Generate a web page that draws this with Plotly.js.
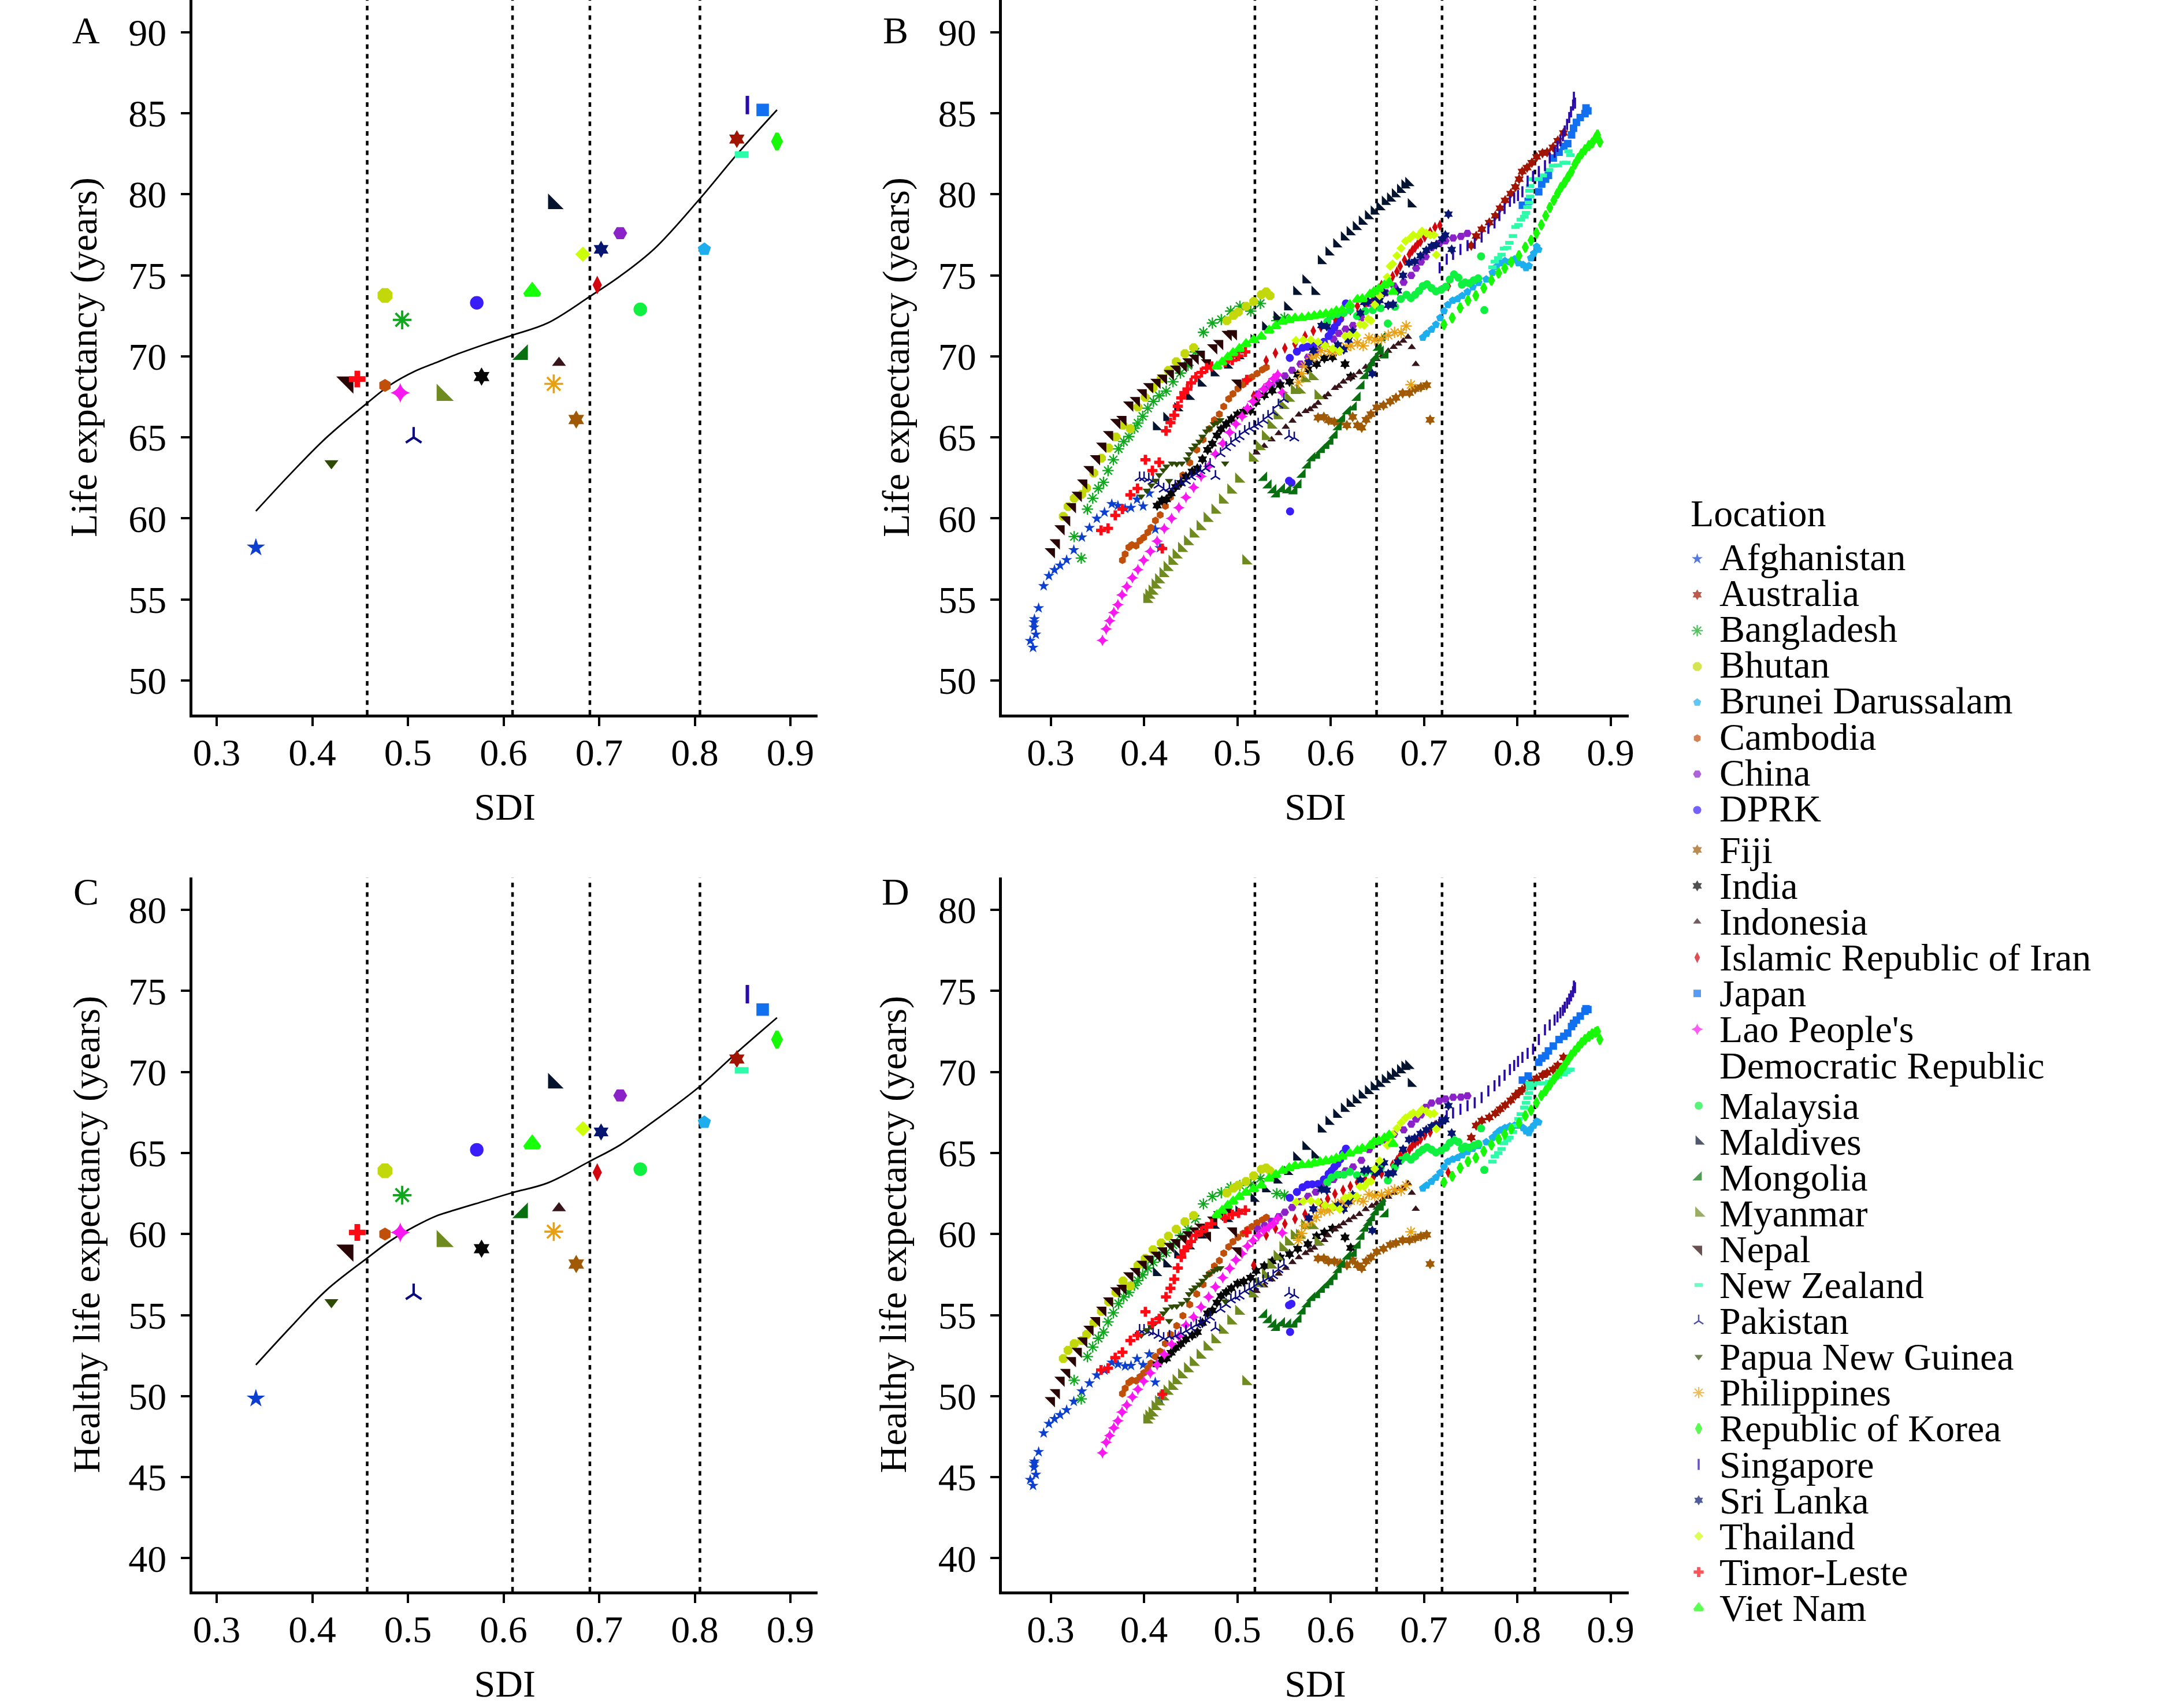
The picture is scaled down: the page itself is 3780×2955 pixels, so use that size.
<!DOCTYPE html>
<html><head><meta charset="utf-8">
<script src="https://cdn.plot.ly/plotly-3.0.1.min.js"></script>
<style>html,body{margin:0;padding:0;background:#fff}</style></head>
<body><div id="chart" style="width:3780px;height:2955px"></div>
<script>
const locations=["Afghanistan","Australia","Bangladesh","Bhutan","Brunei Darussalam","Cambodia","China","DPRK","Fiji","India","Indonesia","Islamic Republic of Iran","Japan","Lao People's Democratic Republic","Malaysia","Maldives","Mongolia","Myanmar","Nepal","New Zealand","Pakistan","Papua New Guinea","Philippines","Republic of Korea","Singapore","Sri Lanka","Thailand","Timor-Leste","Viet Nam"];
// Panels A and C: latest year
const sdiLatest=[.341,.844,.494,.476,.810,.476,.722,.572,.676,.577,.658,.698,.871,.492,.743,.652,.620,.536,.437,.849,.506,.420,.6525,.886,.855,.702,.683,.447,.630];
const leLatest=[58.2,83.4,72.25,73.75,76.6,68.2,77.6,73.3,66.1,68.75,69.6,74.4,85.2,67.75,72.9,79.4,70.1,67.6,68.4,82.45,65,63.4,68.3,83.25,85.5,76.6,76.3,68.6,74];
const haleLatest=[49.85,70.8,62.4,63.9,66.9,60,68.55,65.2,58.15,59.1,61.6,63.8,73.85,60.1,64,69.3,61.3,59.55,59,70.1,56.3,55.8,60.15,72,74.8,66.3,66.5,60.1,65.55];
// fitted curves
const curveSdi=[.341,.378,.415,.457,.482,.508,.529,.55,.581,.609,.646,.6905,.722,.758,.805,.844,.886];
const curveLe=[60.45,62.8,65,67.1,68.25,69.1,69.6,70.1,70.75,71.3,72.05,73.7,74.95,76.65,79.7,82.45,85.2];
const curveHale=[51.93,54.3,56.55,58.5,59.6,60.5,61.1,61.5,62.05,62.55,63.15,64.5,65.5,67,69.1,71.2,73.35];
// SDI quantile cut-offs
const cutsLatest=[.4574,.6094,.6903,.8054];
const cutsTrend=[.5188,.6492,.7194,.8189];
// Panels B and D: each location over time
const sdiAfghanistan=[.281,.278,.284,.282,.282,.2825,.287,.2924,.298,.304,.31,.317,.3247,.3333,.3415,.3494,.3576,.3654,.372,.3797,.386,.399,.3925,.4056,.412,.417];
const leAfghanistan=[52.03,52.45,52.84,53.28,53.6,53.79,54.47,55.83,56.46,56.82,57.1,57.44,58.05,58.84,59.42,59.99,60.38,60.89,60.79,60.6,60.66,60.75,61.17,61.55,59.33,58.18];
const haleAfghanistan=[44.48,44.84,45.16,45.61,45.85,45.97,46.56,47.72,48.3,48.6,48.84,49.15,49.67,50.3,50.8,51.29,51.6,52.08,51.97,51.85,51.88,51.93,52.3,52.59,50.86,49.83];
const sdiAustralia=[.7507,.756,.762,.77,.7765,.7816,.787,.793,.798,.802,.8053,.8105,.8156,.8208,.827,.832,.8383,.8434,.8496];
const leAustralia=[76.83,77.42,77.84,78.25,78.67,79.14,79.62,80.04,80.45,80.93,81.4,81.64,81.94,82.3,82.53,82.59,82.89,83.3,83.78];
const haleAustralia=[65.95,66.7,67,67.2,67.45,67.7,67.95,68.25,68.55,68.75,68.9,69.15,69.4,69.6,69.8,69.95,70.15,70.4,70.9];
const sdiBangladesh=[.3327,.3251,.3393,.345,.351,.3565,.3614,.3671,.3726,.3782,.3837,.3897,.3934,.3985,.404,.41,.4162,.4237,.431,.439,.4471,.4549,.4636,.4732,.4828,.4928,.5027,.5144,.5247,.5422,.5505];
const leBangladesh=[57.55,58.88,60.57,61.24,61.85,62.23,62.95,63.62,64.29,64.74,65.05,65.56,65.88,66.3,66.8,67.22,67.56,67.85,68.43,68.97,69.44,70.27,71.48,72.05,72.27,72.79,73.09,72.79,73.26,72.2,72.37];
const haleBangladesh=[49.83,50.98,52.44,53.03,53.57,53.95,54.58,55.14,55.71,56.12,56.4,56.84,57.13,57.49,57.9,58.26,58.62,58.85,59.33,59.92,60.28,60.93,61.86,62.32,62.55,62.89,63,63.07,63.43,62.5,62.4];
const sdiBhutan=[.3134,.3185,.3251,.3333,.3384,.3461,.3543,.362,.3698,.3775,.3853,.3934,.4012,.4096,.4184,.4261,.4345,.4438,.4531,.4887,.4959,.501,.5093,.5175,.5257,.5309,.535];
const leBhutan=[60.13,60.73,61.24,61.49,61.87,62.8,63.72,64.35,65.03,65.75,65.53,66.87,67.47,68.07,68.62,69.13,69.67,70.17,70.53,72.2,72.52,72.73,73.09,73.38,73.8,73.98,73.74];
const haleBhutan=[52.32,52.83,53.24,53.43,53.81,54.52,55.23,55.83,56.4,57.11,56.8,58.06,58.5,59.03,59.45,59.87,60.3,60.76,61.15,62.54,62.83,63.01,63.25,63.6,64,64.08,63.9];
const sdiBrunei=[.6988,.7029,.7081,.7128,.7173,.7214,.7256,.7307,.7359,.741,.7466,.7523,.7585,.7668,.7734,.7775,.7816,.7868,.792,.7971,.8012,.8063,.8094,.8125,.8146,.8177,.8208,.8228];
const leBrunei=[71.16,71.4,71.66,71.96,72.37,72.79,73.18,73.44,73.54,73.74,73.98,74.27,74.55,74.75,75.16,75.52,75.76,75.88,75.82,75.99,75.76,75.64,75.46,75.58,76.06,76.35,76.77,76.59];
const haleBrunei=[62.83,63.01,63.25,63.49,63.78,64.14,64.47,64.61,64.71,64.88,65.07,65.27,65.45,65.68,65.95,66.2,66.4,66.55,66.65,66.7,66.7,66.55,66.35,66.25,66.5,66.7,66.95,66.9];
const sdiCambodia=[.3768,.3797,.3837,.387,.3914,.3956,.3996,.404,.4074,.4122,.4173,.4228,.4283,.435,.4416,.4489,.4564,.4633,.4699,.4754,.4807,.4854,.4907,.4953,.5006,.5061,.5108,.5156,.5212,.5267,.5311];
const leCambodia=[57.42,57.8,58.22,58.37,58.31,58.63,58.82,59.14,59.43,59.87,60.22,60.76,61.3,61.99,62.67,63.44,64.23,64.86,65.53,66.07,66.43,66.9,67.37,67.69,68.01,68.26,68.55,68.72,68.94,69.17,69.32];
const haleCambodia=[50.15,50.48,50.84,50.98,50.95,51.19,51.43,51.73,52.03,52.44,52.76,53.24,53.81,54.34,54.96,55.65,56.3,56.89,57.55,58.02,58.36,58.82,59.21,59.53,59.8,60.04,60.28,60.46,60.7,60.87,61.03];
const sdiChina=[.522,.5292,.5367,.5443,.5509,.5587,.5676,.5758,.584,.5937,.603,.6088,.616,.624,.6329,.6411,.6514,.6592,.6679,.6782,.6864,.6916,.6967,.7019,.7081,.7163,.7231,.7313,.7396,.7466];
const leChina=[67.68,67.98,68.2,68.39,68.79,69.14,69.52,69.94,70.24,70.71,71.07,71.42,71.68,71.9,72.37,73.26,73.68,73.92,74.33,74.57,74.99,75.44,75.82,76.15,76.71,76.95,77.13,77.3,77.4,77.58];
const haleChina=[60.31,60.52,60.79,61.07,61.35,61.64,62,62.33,62.59,63.01,63.37,63.66,63.9,64.14,64.55,65.21,65.68,65.8,66.16,66.43,66.78,67.09,67.35,67.82,68.08,68.21,68.33,68.44,68.45,68.53];
const sdiDPRK=[.5554,.5565,.558,.5562,.5638,.57,.5752,.5803,.5865,.5927,.5978,.6009,.604,.6071,.6102,.6133,.6164];
const leDPRK=[62.32,60.43,62.2,69.9,70.29,70.53,70.59,70.65,70.65,70.89,71.25,71.54,71.78,72.08,72.31,72.73,73.26];
const haleDPRK=[55.61,53.96,55.7,62.24,62.59,62.89,63.05,63.07,63.09,63.37,63.72,63.9,64.14,64.32,64.61,64.97,65.27];
const sdiFiji=[.5865,.5927,.5978,.604,.6102,.6174,.6236,.6287,.6333,.638,.6432,.6494,.6566,.6638,.67,.6772,.6844,.6905,.6967,.7029,.7066];
const leFiji=[66.22,66.26,66.05,65.96,65.9,65.74,66.26,65.74,65.6,66.08,66.43,66.85,66.97,67.21,67.44,67.72,67.74,67.98,68.1,68.22,66.08];
const haleFiji=[58.5,58.5,58.32,58.32,58.2,58.08,58.38,58.08,57.9,58.32,58.56,58.91,59.09,59.33,59.45,59.62,59.62,59.74,59.86,59.96,58.16];
const sdiIndia=[.414,.4191,.424,.429,.4339,.4394,.4449,.4516,.4571,.4626,.4681,.4732,.4781,.4825,.488,.4935,.5002,.5068,.5141,.5201,.5289,.5373,.5459,.5559,.5647,.5756,.5849,.5933,.602,.6154,.6215];
const leIndia=[60.79,61.11,61.17,61.55,61.94,62.19,62.57,62.89,63.08,63.65,64.23,64.61,65.12,65.5,65.82,66.14,66.42,66.58,66.65,67.18,67.6,67.88,68.24,68.43,68.87,69.2,69.52,69.88,69.94,69.52,68.75];
const haleIndia=[51.96,52.26,52.32,52.68,52.97,53.21,53.51,53.75,53.95,54.52,55.11,55.29,55.77,56.18,56.42,56.66,56.95,57.07,57.31,57.73,58.02,58.32,58.56,58.76,59.09,59.39,59.86,60.1,60.34,59.8,59.15];
const sdiIndonesia=[.5206,.5288,.5367,.5443,.5519,.5591,.5659,.5731,.5779,.5824,.5865,.5933,.5972,.6046,.6088,.6137,.6195,.6246,.6308,.6376,.6442,.6493,.6555,.6617,.6675,.6726,.6778,.6829,.687,.6912];
const leIndonesia=[64.06,64.47,64.87,65.25,65.64,66.02,66.4,66.61,66.73,66.91,67.12,67.47,67.65,68.04,68.16,68.43,68.63,68.81,69.02,69.34,69.62,69.82,70.06,70.33,70.57,70.77,70.95,71.19,70.56,69.52];
const haleIndonesia=[56.48,56.83,57.19,57.55,57.9,58.26,58.56,58.82,59,59.15,59.39,59.62,59.92,60.28,60.46,60.66,60.85,61.03,61.23,61.53,61.74,61.88,62.12,62.3,62.54,62.77,62.83,63.13,62.54,61.55];
const sdiIran=[.5175,.5309,.5408,.5509,.5618,.5725,.5814,.5896,.5968,.6046,.6133,.6211,.6287,.6371,.6456,.6545,.6664,.671,.6745,.6792,.6844,.6875,.6905,.6936,.6963,.7008,.7066,.7118,.717,.726];
const leIran=[67.56,69.74,70.2,70.5,70.77,71.25,71.57,71.8,72.1,72.35,72.6,72.85,73.1,73.25,73.5,74.39,74.93,75.22,75.56,75.94,76.29,76.53,76.71,76.95,77.07,77.36,77.66,77.96,78.08,74.33];
const haleIran=[58.08,59.92,60.34,60.63,60.93,61.23,61.58,61.9,62.18,62.48,62.71,62.95,63.19,63.35,63.49,63.72,64.26,64.55,64.85,65,65.21,65.45,65.6,65.74,65.85,66.1,66.28,66.7,66.87,63.8];
const sdiJapan=[.8055,.8117,.823,.8262,.8303,.8334,.8386,.8448,.8499,.8541,.8582,.8603,.8634,.8675,.8726,.8757,.8737];
const leJapan=[79.32,79.56,80.15,80.63,80.93,81.16,82.23,82.59,82.95,83.12,83.66,84.07,84.43,84.73,84.97,85.14,85.32];
const haleJapan=[69.5,69.75,70.6,70.85,71,71.3,71.6,72,72.2,72.4,72.8,73,73.2,73.45,73.75,73.85,73.9];
const sdiLao=[.3554,.3594,.3632,.3676,.372,.3764,.3815,.3875,.3934,.3996,.4067,.414,.4217,.4295,.4372,.4449,.4531,.4611,.4692,.4765,.4843,.4918,.4984,.505,.5108,.5167,.5227,.5282,.5338,.5388,.5433,.5481];
const leLao=[52.48,53.18,53.69,54.2,54.68,55.28,55.79,56.34,56.84,57.42,57.97,58.6,59.37,60,60.66,61.3,61.91,62.6,63.21,63.97,64.63,65.31,65.82,66.29,66.8,67.22,67.6,67.98,68.3,68.62,68.87,67.77];
const haleLao=[46.5,47.15,47.57,48.04,48.48,49.02,49.45,49.95,50.42,50.92,51.43,51.94,52.58,53.21,53.69,54.38,54.88,55.5,56.12,56.74,57.31,57.88,58.4,58.8,59.25,59.59,59.92,60.22,60.43,60.66,60.96,60.07];
const sdiMalaysia=[.5964,.6009,.6071,.6139,.6205,.6283,.637,.6452,.6535,.6613,.6689,.6751,.6813,.686,.6905,.6947,.6988,.7033,.7081,.7128,.7184,.7235,.7276,.7322,.7369,.7406,.7441,.7486,.7534,.7581,.7612,.7647];
const leMalaysia=[72.14,72.49,72.6,72.67,72.85,72.49,72.79,72.85,72.97,72.02,73.06,73.54,73.8,73.59,73.8,74.04,74.33,74.45,74.21,74.01,74.1,74.3,74.73,75.05,74.85,74.42,74.55,74.51,74.69,74.81,76.17,72.85];
const haleMalaysia=[63.19,63.49,63.66,63.66,63.84,63.63,63.78,63.9,64.08,63.31,64.16,64.56,64.76,64.59,64.79,65.03,65.21,65.36,65.21,65.03,65.15,65.33,65.62,65.8,65.68,65.27,65.39,65.33,65.47,65.57,66.52,63.96];
const sdiMaldives=[.4129,.424,.4357,.4482,.461,.4748,.4891,.5013,.5175,.5299,.5422,.5535,.5632,.5828,.5731,.5896,.5978,.6061,.6143,.6205,.6271,.6335,.6401,.6463,.6524,.6582,.6638,.6689,.6745,.6792,.6833,.686];
const leMaldives=[65.63,66.2,66.8,67.5,68.32,68.96,69.44,70.02,71.01,71.8,72.43,73.03,73.98,73.98,74.69,75.88,76.41,76.91,77.34,77.66,77.98,78.31,78.65,78.93,79.2,79.53,79.74,80,80.27,80.55,80.69,79.38];
const haleMaldives=[57.6,58.14,58.7,59.25,59.92,60.52,60.93,61.4,62.18,62.77,63.31,63.84,64.73,64.85,65.39,66.46,66.93,67.37,67.73,68.04,68.26,68.56,68.83,69.07,69.27,69.51,69.72,69.9,70.11,70.32,70.38,69.27];
const sdiMongolia=[.5285,.5333,.5384,.5421,.5477,.5543,.561,.5654,.5698,.5753,.5802,.5853,.5904,.5952,.5996,.604,.6085,.6122,.6184,.6246,.6287,.6329,.637,.6411,.6442,.6483,.6514,.6535,.6555,.6586];
const leMongolia=[62.51,62.04,61.74,61.49,61.81,61.74,61.68,62.06,62.7,63.27,63.72,63.87,64.23,64.48,64.74,65.12,65.63,66.14,66.61,66.85,67.44,68.16,68.79,69.23,69.58,69.94,70.53,70.29,71.13,70.06];
const haleMongolia=[55.02,54.7,54.42,54.22,54.5,54.42,54.42,54.73,55.23,55.68,56.06,56.24,56.57,56.84,57.04,57.37,57.79,58.14,58.62,58.79,59.29,59.84,60.34,60.69,60.99,61.35,61.7,61.64,61.94,61.23];
const sdiMyanmar=[.4029,.4051,.4085,.4118,.4155,.4202,.4246,.4299,.4343,.4401,.4465,.4527,.46,.4675,.4759,.484,.4929,.5013,.509,.5161,.5234,.53,.536,.5426,.5488,.5548,.561,.5665,.572,.5804,.5864];
const leMyanmar=[55,55.26,55.51,55.89,56.21,56.59,56.97,57.35,57.74,58.14,58.56,59.03,59.49,60,60.5,61.13,61.74,62.42,57.38,63.72,64.42,65.05,65.75,66.33,66.96,67.41,67.89,67.92,68.62,68.74,67.57];
const haleMyanmar=[48.52,48.76,48.96,49.35,49.65,49.95,50.3,50.6,50.95,51.31,51.69,52.08,52.52,53.03,53.48,54.07,54.64,55.23,50.89,56.3,56.95,57.49,58.08,58.62,59.15,59.51,59.89,59.92,60.52,60.52,59.51];
const sdiNepal=[.3008,.3061,.3112,.3172,.3234,.3296,.3355,.3422,.3492,.3559,.3632,.3709,.3775,.3848,.3919,.3992,.4062,.414,.421,.4283,.435,.4423,.4482,.4549,.4615,.4681,.4748,.4812,.4903,.4959,.5006];
const leNepal=[57.95,58.5,59.37,59.92,60.73,61.43,62.19,63.02,63.69,64.46,65.18,65.92,66.11,67,67.28,67.76,68.13,68.4,68.66,68.94,69.22,69.42,69.67,69.89,70.14,69.6,70.53,70.8,71.36,71.4,68.36];
const haleNepal=[49.73,50.22,50.99,51.47,52.2,52.77,53.41,54.13,54.67,55.31,55.88,56.5,56.66,57.43,57.7,58.14,58.46,58.7,58.97,59.25,59.48,59.72,59.96,60.2,60.43,59.92,60.87,61.2,61.5,60.2,58.97];
const sdiNewZealand=[.7734,.776,.7796,.7831,.7857,.7892,.7915,.7954,.7981,.8012,.8037,.8074,.8094,.8109,.8125,.8136,.8131,.8136,.8166,.8228,.8274,.8342,.8383,.8434,.8496,.8527,.8548,.8568];
const leNewZealand=[75.49,75.84,76.06,76.27,76.65,76.69,77,77.42,77.98,78.1,78.43,78.61,78.85,79.2,79.48,79.86,80.21,80.51,80.93,80.93,81.16,81.5,81.76,81.78,81.94,81.94,82.65,82.41];
const haleNewZealand=[64.47,64.79,65,65.25,65.6,65.8,65.95,66.3,66.7,67.1,67.4,67.8,68.1,68.4,68.7,69,69.3,69.2,69.2,69.3,69.3,69.4,69.55,69.7,69.85,70,70.1,70.15];
const sdiPakistan=[.3952,.4,.4051,.4096,.4155,.421,.4272,.4334,.4394,.4449,.4504,.456,.4604,.4659,.4708,.4765,.482,.488,.4931,.498,.5024,.5079,.5128,.5179,.5223,.5278,.5329,.5384,.544,.5499,.5554,.561];
const lePakistan=[62.51,62.51,62.44,62.32,62.06,61.81,61.87,62,62.19,62.32,62.57,62.76,62.95,63.08,63.34,62.6,64,64.38,64.63,64.89,65.05,65.37,65.56,65.69,65.82,66.05,66.3,66.54,67,67.35,65.09,64.97];
const halePakistan=[54.07,54.07,53.98,53.92,53.75,53.57,53.69,53.72,53.9,54.02,54.2,54.4,54.52,54.7,54.87,54.22,55.37,55.65,55.94,56.1,56.18,56.48,56.63,56.77,56.95,57.11,57.27,57.43,57.81,58.11,56.36,56.24];
const sdiPNG=[.397,.4029,.4078,.4122,.4162,.4206,.424,.4299,.435,.4405,.446,.4482,.4516,.4549,.4593,.4626,.4666,.4703,.4748,.4785,.4818,.4869,.4268];
const lePNG=[61.36,61.72,62.04,62.34,62.67,62.98,63.21,63.4,63.36,63.4,63.65,63.97,64.29,64.51,64.74,65.05,65.37,65.56,65.82,65.91,66.07,63.4,62.32];
const halePNG=[53.75,54.08,54.28,54.52,54.82,55.11,55.35,55.53,55.55,55.71,55.94,56.3,56.54,56.72,56.9,57.13,57.37,57.55,57.73,57.85,57.9,55.85,54.64];
const sdiPhilippines=[.5655,.569,.5721,.5793,.5845,.5896,.5937,.5989,.6051,.6112,.6164,.6215,.6287,.6349,.6411,.6473,.6545,.6617,.6685,.6755,.6809,.686];
const lePhilippines=[68.4,68.93,69.4,69.88,70.06,70.35,70.59,70.29,70.29,70.41,70.59,70.65,70.83,70.65,71.13,71.01,71.07,71.3,71.48,71.45,71.87,68.25];
const halePhilippines=[59.62,60.04,60.52,60.81,61.05,61.35,61.53,61.47,61.82,61.94,61.88,62.06,62.18,62.02,62.45,62.36,62.42,62.57,62.74,62.69,63.01,60.14];
const sdiKorea=[.7214,.7303,.7388,.7472,.7556,.7641,.7723,.78,.7866,.7936,.8018,.8086,.8148,.8206,.8258,.8305,.8349,.8392,.8431,.8468,.8507,.8545,.858,.8617,.8654,.8689,.8726,.8768,.8803,.884,.886,.8885];
const leKorea=[71.96,72.37,72.99,73.44,73.74,74.21,74.69,75.13,75.44,75.82,76.21,76.73,77.16,77.6,78.11,78.67,79.18,79.62,80.04,80.42,80.72,81.07,81.4,81.84,82.21,82.49,82.74,83,83.16,83.48,83.66,83.22];
const haleKorea=[63.19,63.57,64.08,64.47,64.71,65.11,65.51,65.86,66.16,66.49,66.85,67.3,67.65,68.1,68.55,68.85,69.2,69.55,69.85,70.1,70.4,70.75,71.05,71.3,71.55,71.8,72,72.2,72.35,72.45,72.5,72];
const sdiSingapore=[.7168,.7244,.7312,.7391,.7467,.7544,.7618,.769,.7756,.7808,.7864,.7921,.7967,.8008,.8055,.8111,.8169,.8231,.8297,.8348,.84,.8431,.8462,.8489,.8509,.8534,.8557,.8576,.8598,.8619,.8607];
const leSingapore=[75.46,75.99,76.29,76.59,76.83,76.97,77.36,77.9,78.23,78.69,79.12,79.56,79.77,79.92,80.15,80.81,81.1,81.4,81.76,82.23,82.59,82.95,83.3,83.6,83.9,84.31,84.73,85.08,85.5,85.62,85.98];
const haleSingapore=[66.9,67.3,67.47,67.7,67.92,68.1,68.42,68.83,69.15,69.45,69.8,70.15,70.4,70.65,70.9,71.15,71.41,72,72.6,72.9,73.2,73.4,73.65,73.8,74,74.25,74.5,74.7,74.95,75.2,75.3];
const sdiSriLanka=[.5766,.5814,.5902,.5958,.6077,.6139,.6191,.6236,.6318,.6359,.6401,.6483,.6524,.6572,.6617,.6669,.672,.6776,.684,.6901,.6963,.7025,.7081,.7132,.7194,.7229,.7297,.7262,.6446];
const leSriLanka=[69.61,70.35,71.9,71.84,70.71,70.41,71.01,71.54,72.67,73.32,73.38,73.56,73.44,73.92,73.15,73.21,74.04,74.99,75.76,75.85,76.2,76.53,76.79,76.89,77.24,77.48,76.59,78.77,68.93];
const haleSriLanka=[60.99,61.55,62.77,62.71,61.76,61.53,62,62.42,63.33,63.93,63.96,63.78,63.96,64.4,63.72,63.78,64.44,65.23,65.83,65.92,66.2,66.43,66.63,66.75,66.93,67.05,66.22,67.92,60.22];
const sdiThailand=[.5628,.5706,.5787,.5865,.5941,.602,.6096,.6154,.6205,.6277,.6314,.6359,.6401,.6432,.6473,.6524,.6607,.6638,.6664,.671,.6755,.6802,.6854,.6885,.6936,.6978,.7025,.7066,.7107,.7132];
const leThailand=[70.98,71.01,71.01,70.89,70.65,70.47,70.33,71.25,71.3,71.3,71.96,71.92,72.31,72.2,73.18,73.74,74.89,75.56,75.7,76.2,76.67,77.1,77.3,77.48,77.42,77.72,77.6,77.48,77.48,76.26];
const haleThailand=[61.98,62.02,62.06,61.98,61.79,61.67,61.53,62.24,62.33,62.33,62.93,62.93,63.21,63.25,64.02,64.52,65.47,65.8,66.16,66.52,66.87,67.17,67.35,67.47,67.41,67.68,67.58,67.41,67.44,66.49];
const sdiTimor=[.3539,.3614,.3691,.3768,.3853,.393,.4014,.4089,.4162,.4195,.4235,.4283,.4323,.4361,.4398,.4431,.4465,.4504,.4555,.4615,.467,.4725,.4869,.4946,.5013,.5086,.5101];
const leTimor=[59.26,59.39,60.19,60.57,61.45,61.85,63.62,62.95,63.46,58.14,65.4,65.91,66.36,66.92,67.43,67.76,67.98,68.36,68.72,69,69.28,69.38,69.64,69.76,70.02,70.27,68.55];
const haleTimor=[51.61,51.73,52.38,52.71,53.43,53.75,55.2,54.52,54.78,50.12,56.12,56.66,57.22,57.9,58.58,58.97,59.21,59.54,59.92,60.16,60.43,60.64,61,61.2,61.3,61.47,60.1];
const sdiVietNam=[.4781,.4836,.4897,.4953,.5021,.5093,.5175,.5257,.534,.5412,.5484,.5556,.5618,.569,.5762,.5824,.5886,.5948,.6009,.6061,.6123,.6205,.6287,.6339,.6421,.6463,.6514,.6576,.6627,.6669];
const leVietNam=[69.38,69.64,69.94,70.21,70.47,70.77,71.01,71.22,71.6,71.86,72.14,72.25,72.35,72.37,72.43,72.49,72.55,72.61,72.65,72.79,72.85,73.18,73.5,73.54,73.82,73.98,74.16,74.39,74.54,73.98];
const haleVietNam=[61.18,61.45,61.76,62.02,62.3,62.56,62.77,63.01,63.43,63.66,63.9,64.08,64.2,64.26,64.28,64.38,64.44,64.5,64.55,64.67,64.79,64.97,65.15,65.27,65.45,65.68,65.74,65.92,66.1,65.57];

const trendSdi=[sdiAfghanistan,sdiAustralia,sdiBangladesh,sdiBhutan,sdiBrunei,sdiCambodia,sdiChina,sdiDPRK,sdiFiji,sdiIndia,sdiIndonesia,sdiIran,sdiJapan,sdiLao,sdiMalaysia,sdiMaldives,sdiMongolia,sdiMyanmar,sdiNepal,sdiNewZealand,sdiPakistan,sdiPNG,sdiPhilippines,sdiKorea,sdiSingapore,sdiSriLanka,sdiThailand,sdiTimor,sdiVietNam];
const trendLe=[leAfghanistan,leAustralia,leBangladesh,leBhutan,leBrunei,leCambodia,leChina,leDPRK,leFiji,leIndia,leIndonesia,leIran,leJapan,leLao,leMalaysia,leMaldives,leMongolia,leMyanmar,leNepal,leNewZealand,lePakistan,lePNG,lePhilippines,leKorea,leSingapore,leSriLanka,leThailand,leTimor,leVietNam];
const trendHale=[haleAfghanistan,haleAustralia,haleBangladesh,haleBhutan,haleBrunei,haleCambodia,haleChina,haleDPRK,haleFiji,haleIndia,haleIndonesia,haleIran,haleJapan,haleLao,haleMalaysia,haleMaldives,haleMongolia,haleMyanmar,haleNepal,haleNewZealand,halePakistan,halePNG,halePhilippines,haleKorea,haleSingapore,haleSriLanka,haleThailand,haleTimor,haleVietNam];

// styles
const colours=["#0c3fcf","#a01400","#10a81e","#c2d80a","#1eaeee","#c04f0a","#8a22c8","#3a1efa","#a05a05","#050505","#38151a","#d2060e","#1170f0","#fa18f0","#10f040","#05142e","#087010","#6f8a1e","#2a0505","#2dfbaa","#0a0a82","#2f4a05","#e8a010","#18f808","#2a0aaa","#051570","#ccff0a","#ff0a14","#18ff0a"];
const symbols=["star","hexagram","asterisk","octagon","pentagon","hexagon","hexagon2","circle","hexagram","hexagram","triangle-up","diamond-tall","square","star-diamond","circle","triangle-sw","triangle-se","triangle-sw","triangle-ne","line-ew","y-up","triangle-down","asterisk","diamond-tall","line-ns","hexagram","diamond","cross","triangle-up"];
const sizeScale=[.8,.78,.9,.92,.8,.75,.8,.78,.8,.8,.7,.77,.72,.82,.78,1,1,1.1,1.1,.57,.75,.7,.9,.67,.76,.75,.68,.8,.72];
const strokeScale=[0,0,.13,0,0,0,0,0,0,0,0,0,0,0,0,0,0,0,0,.37,.14,0,.12,.2,.2,0,0,0,.25];

const W=3780,H=2955;
const panels=[
 {xa:'x',ya:'y',xd:[332.5,1415],yd:[0,1237],xr:[.2743,.9284],yr:[47.9,91.98],t0:50,ttl:'Life expectancy (years)',letter:'A',lx:149,ly:53,ys:35,xt:'SDI'},
 {xa:'x2',ya:'y2',xd:[1734,2819],yd:[0,1237],xr:[.2476,.9195],yr:[47.9,91.98],t0:50,ttl:'Life expectancy (years)',letter:'B',lx:1550,ly:53,ys:30,xt:'SDI'},
 {xa:'x3',ya:'y3',xd:[332.5,1415],yd:[1519,2755],xr:[.2743,.9284],yr:[37.95,82],t0:40,ttl:'Healthy life expectancy (years)',letter:'C',lx:149,ly:1543,ys:30,xt:'SDI'},
 {xa:'x4',ya:'y4',xd:[1734,2819],yd:[1519,2755],xr:[.2476,.9195],yr:[37.95,82],t0:40,ttl:'Healthy life expectancy (years)',letter:'D',lx:1550,ly:1543,ys:35,xt:'\u00A0\u00A0\u00A0SDI'}
];
const traces=[];
function styled(i,base){
 const s=base*sizeScale[i], st=strokeScale[i]*base;
 return {symbol:symbols[i],color:colours[i],size:s,line:{width:st,color:colours[i]}};
}
function addLatest(p,vals,curve){
 traces.push({type:'scatter',mode:'lines',x:curveSdi,y:curve,xaxis:p.xa,yaxis:p.ya,line:{color:'#000',width:2.8,shape:'spline',smoothing:1},showlegend:false,hoverinfo:'skip'});
 locations.forEach((n,i)=>traces.push({type:'scatter',mode:'markers',name:n,x:[sdiLatest[i]],y:[vals[i]],xaxis:p.xa,yaxis:p.ya,marker:styled(i,30),showlegend:false}));
}
function addTrend(p,vals){
 locations.forEach((n,i)=>traces.push({type:'scatter',mode:'markers',name:n,x:trendSdi[i],y:vals[i],xaxis:p.xa,yaxis:p.ya,marker:styled(i,18),showlegend:false}));
}
addLatest(panels[0],leLatest,curveLe);
addTrend(panels[1],trendLe);
addLatest(panels[2],haleLatest,curveHale);
addTrend(panels[3],trendHale);

// key, drawn on a full-page pixel axis
const keyRow=[0,1,2,3,4,5,6,7,8,9,10,11,12,13,15,16,17,18,19,20,21,22,23,24,25,26,27,28,29];
const keyY=r=>967.5+62.1*r+(r>=15?15:(r>=8?7:0));
traces.push({type:'scatter',mode:'markers',x:keyRow.map(r=>r>=15?2940:2937.5),y:keyRow.map(keyY),xaxis:'x5',yaxis:'y5',showlegend:false,hoverinfo:'skip',
 marker:{symbol:symbols,color:colours,size:sizeScale.map(s=>s*18),line:{color:colours,width:strokeScale.map(s=>s*18)}}});

const layout={width:W,height:H,margin:{l:0,r:0,t:0,b:0},paper_bgcolor:'#fff',plot_bgcolor:'rgba(0,0,0,0)',showlegend:false,
 font:{family:'"Liberation Serif",serif',size:66,color:'#000'},shapes:[],
 annotations:[],
 xaxis5:{domain:[0,1],range:[0,W],visible:false,anchor:'y5'},
 yaxis5:{domain:[0,1],range:[H,0],visible:false,anchor:'x5'}};
panels.forEach((p,k)=>{
 const sx=k?String(k+1):'';
 layout['xaxis'+sx]={domain:[p.xd[0]/W,p.xd[1]/W],range:p.xr,anchor:'y'+sx,tickmode:'linear',tick0:.3,dtick:.1,tickformat:'.1f',showgrid:false,zeroline:false,showline:true,linecolor:'#000',linewidth:5,ticks:'outside',ticklen:15,tickwidth:4,tickcolor:'#000',ticklabelstandoff:-11,title:{text:p.xt,standoff:36,font:{size:66}},tickfont:{size:66}};
 layout['yaxis'+sx]={domain:[1-p.yd[1]/H,1-p.yd[0]/H],range:p.yr,anchor:'x'+sx,tickmode:'linear',tick0:p.t0,dtick:5,showgrid:false,zeroline:false,showline:true,linecolor:'#000',linewidth:5,ticks:'outside',ticklen:15,tickwidth:4,tickcolor:'#000',ticklabelstandoff:11,title:{text:p.ttl,standoff:p.ys,font:{size:66}},tickfont:{size:66}};
 (k%2?cutsTrend:cutsLatest).forEach(c=>layout.shapes.push({type:'line',layer:'below',xref:'x'+sx,yref:'y'+sx+' domain',x0:c,x1:c,y0:0,y1:1,line:{color:'#000',width:4.5,dash:'8px,8.7px'}}));
 layout.annotations.push({xref:'paper',yref:'paper',x:p.lx/W,y:1-p.ly/H,text:p.letter,showarrow:false,xanchor:'center',yanchor:'middle',font:{size:66}});
});
const noteText=(t,x,py)=>layout.annotations.push({xref:'paper',yref:'paper',x:x/W,y:1-py/H,text:t,showarrow:false,xanchor:'left',yanchor:'middle',font:{size:66},borderpad:0});
noteText('Location',2925,889);
const keyLabels=locations.map(n=>n.startsWith('Lao')?"Lao People's":n);
keyLabels.forEach((t,i)=>noteText(t,2975,keyY(keyRow[i])-(keyRow[i]<8?3:0)));
noteText('Democratic Republic',2975,keyY(14)+1);

Plotly.newPlot('chart',traces,layout,{displayModeBar:false,staticPlot:true});
</script></body></html>
